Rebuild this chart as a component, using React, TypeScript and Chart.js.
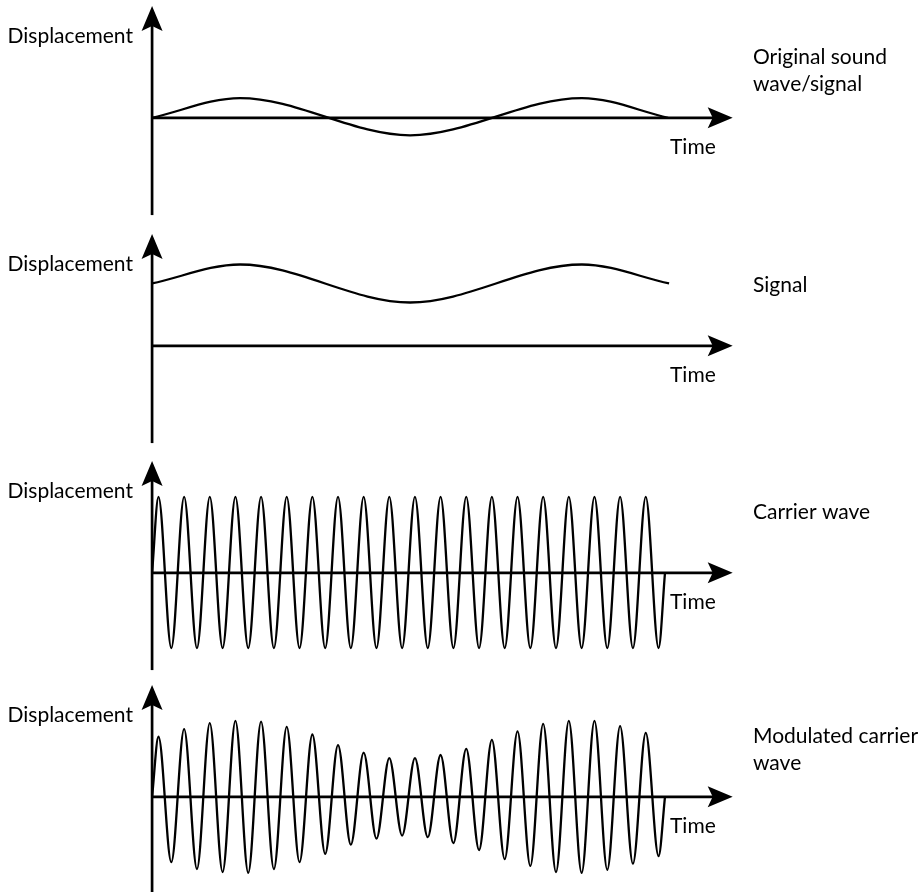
import React, { useEffect, useRef } from "react";
import { Chart, registerables } from "chart.js";

Chart.register(...registerables);

// ---------- data (time in carrier periods, displacement in carrier amplitudes) ----------
const yAxisLabel = "Displacement";
const xAxisLabel = "Time";
const panelTitles: string[][] = [
  ["Original sound", "wave/signal"],
  ["Signal"],
  ["Carrier wave"],
  ["Modulated carrier", "wave"],
];

// Original sound wave (panel 1) – start, extrema, end
const originalTimes = [0, 3.43, 10.06, 16.76, 20.12];
const originalValues = [0, 0.26, -0.23, 0.26, 0];

// Signal, shifted above the time axis (panel 2)
const signalTimes = [0, 3.43, 10.06, 16.76, 20.16];
const signalValues = [0.82, 1.07, 0.57, 1.07, 0.82];

// Carrier / modulated carrier: start & end on the axis, extrema in between
const waveStart = 0;
const waveEnd = 20;
const extremaTimes = [
  0.25, 0.75, 1.25, 1.75, 2.25, 2.75, 3.25, 3.75, 4.25, 4.75,
  5.25, 5.75, 6.25, 6.75, 7.25, 7.75, 8.25, 8.75, 9.25, 9.75,
  10.25, 10.75, 11.25, 11.75, 12.25, 12.75, 13.25, 13.75, 14.25, 14.75,
  15.25, 15.75, 16.25, 16.75, 17.25, 17.75, 18.25, 18.75, 19.25, 19.75,
];
const carrierExtrema = [
  1.0, -0.99, 1.0, -0.99, 1.0, -0.99, 1.0, -0.99, 1.0, -0.99,
  1.0, -0.99, 1.0, -0.99, 1.0, -0.99, 1.0, -0.99, 1.0, -0.99,
  1.0, -0.99, 1.0, -0.99, 1.0, -0.99, 1.0, -0.99, 1.0, -0.99,
  1.0, -0.99, 1.0, -0.99, 1.0, -0.99, 1.0, -0.99, 1.0, -0.99,
];
const modulatedExtrema = [
  0.79, -0.86, 0.89, -0.95, 0.97, -0.99, 1.0, -1.0, 0.99, -0.95,
  0.92, -0.86, 0.82, -0.75, 0.68, -0.63, 0.58, -0.55, 0.51, -0.51,
  0.51, -0.53, 0.55, -0.61, 0.63, -0.7, 0.75, -0.82, 0.86, -0.91,
  0.96, -0.99, 1.0, -1.0, 1.0, -0.96, 0.93, -0.88, 0.84, -0.78,
];

// ---------- helpers ----------
type Pt = { x: number; y: number };
const zip = (xs: number[], ys: number[]): Pt[] => xs.map((x, i) => ({ x, y: ys[i] }));
const wavePoints = (ext: number[]): Pt[] => [
  { x: waveStart, y: 0 },
  ...zip(extremaTimes, ext),
  { x: waveEnd, y: 0 },
];

const panelData: Pt[][] = [
  zip(originalTimes, originalValues),
  zip(signalTimes, signalValues),
  wavePoints(carrierExtrema),
  wavePoints(modulatedExtrema),
];

// ---------- layout / style ----------
const W = 924;
const PANEL_H = 228;
const panelTops = [0, 228, 455, 679];
const X_MIN = -5.93;
const X_MAX = 30.1;
const Y_MIN = -1.45;
const Y_MAX = 1.55;
const Y_AXIS_TOP = 1.47; // in value units
const Y_AXIS_BOTTOM = -1.28;
const X_AXIS_END = 22.64;
const FONT = '21px "Lato", "Open Sans", sans-serif';

const makeAxesPlugin = (titles: string[]) => ({
  id: "arrowAxes",
  afterDraw(chart: any) {
    const { ctx, scales } = chart;
    const xs = scales.x;
    const ys = scales.y;
    const x0 = xs.getPixelForValue(0);
    const y0 = ys.getPixelForValue(0);
    const yTop = ys.getPixelForValue(Y_AXIS_TOP);
    const yBot = ys.getPixelForValue(Y_AXIS_BOTTOM);
    const xEnd = xs.getPixelForValue(X_AXIS_END);
    ctx.save();
    ctx.strokeStyle = "#000";
    ctx.fillStyle = "#000";
    ctx.lineWidth = 2.7;
    // vertical axis
    ctx.beginPath();
    ctx.moveTo(x0, yBot);
    ctx.lineTo(x0, yTop + 18);
    ctx.stroke();
    ctx.beginPath();
    ctx.moveTo(x0, yTop);
    ctx.lineTo(x0 + 10.5, yTop + 25);
    ctx.lineTo(x0, yTop + 20);
    ctx.lineTo(x0 - 10.5, yTop + 25);
    ctx.closePath();
    ctx.fill();
    // horizontal axis
    ctx.beginPath();
    ctx.moveTo(x0, y0);
    ctx.lineTo(xEnd - 18, y0);
    ctx.stroke();
    ctx.beginPath();
    ctx.moveTo(xEnd, y0);
    ctx.lineTo(xEnd - 25, y0 - 10.5);
    ctx.lineTo(xEnd - 20, y0);
    ctx.lineTo(xEnd - 25, y0 + 10.5);
    ctx.closePath();
    ctx.fill();
    // texts
    ctx.font = FONT;
    ctx.textAlign = "left";
    ctx.textBaseline = "alphabetic";
    ctx.fillText(yAxisLabel, 7.5, y0 - 75);
    ctx.fillText(xAxisLabel, 670, y0 + 36.5);
    titles.forEach((t, i) => ctx.fillText(t, 753, y0 - 54 + i * 26.7));
    ctx.restore();
  },
});

function Panel({ index }: { index: number }) {
  const ref = useRef<HTMLCanvasElement | null>(null);
  useEffect(() => {
    if (!ref.current) return;
    const chart = new Chart(ref.current, {
      type: "line",
      data: {
        datasets: [
          {
            data: panelData[index],
            borderColor: "#000",
            borderWidth: 2.3,
            pointRadius: 0,
            fill: false,
            cubicInterpolationMode: "monotone",
          } as any,
        ],
      },
      options: {
        animation: false,
        responsive: false,
        maintainAspectRatio: false,
        events: [],
        layout: { padding: 0 },
        plugins: { legend: { display: false }, tooltip: { enabled: false } },
        scales: {
          x: { type: "linear", min: X_MIN, max: X_MAX, display: false },
          y: { type: "linear", min: Y_MIN, max: Y_MAX, display: false },
        },
      },
      plugins: [makeAxesPlugin(panelTitles[index])],
    });
    return () => chart.destroy();
  }, [index]);
  return (
    <canvas
      ref={ref}
      width={W}
      height={PANEL_H}
      style={{ position: "absolute", left: 0, top: panelTops[index], width: W, height: PANEL_H, display: "block" }}
    />
  );
}

export default function App() {
  return (
    <div
      style={{
        position: "absolute",
        left: 0,
        top: 0,
        width: W,
        height: 892,
        overflow: "hidden",
        background: "#fff",
      }}
    >
      {panelData.map((_, i) => (
        <Panel key={i} index={i} />
      ))}
    </div>
  );
}
